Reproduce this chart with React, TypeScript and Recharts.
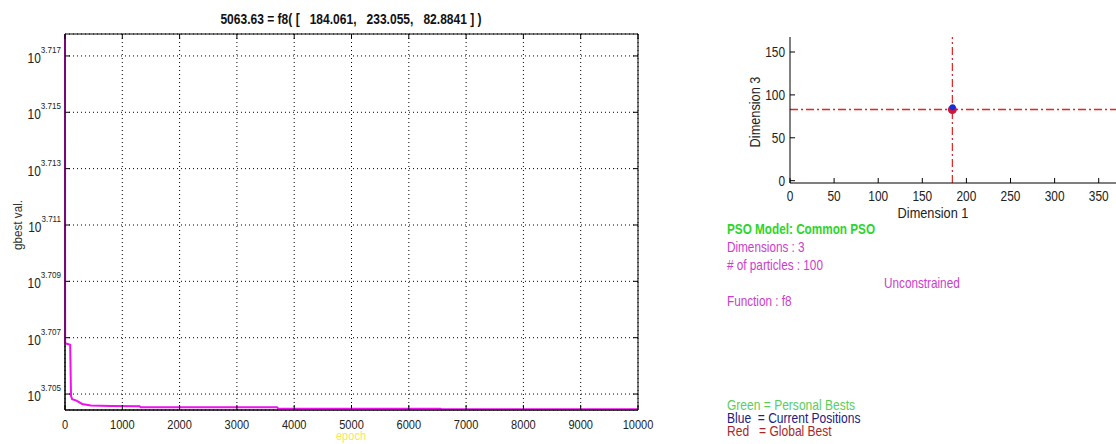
import {
  CartesianGrid,
  Line,
  LineChart,
  ReferenceArea,
  ReferenceLine,
  Scatter,
  ScatterChart,
  XAxis,
  YAxis,
} from "recharts";

// gbest history (left panel)
const epochs = [0, 2, 90, 105, 125, 200, 300, 450, 800, 1300, 1320, 3700, 3720, 6550, 6570, 10000];
const gbest = [
  5221.3, 5091.0, 5090.4, 5069.1, 5067.8, 5067.2, 5065.8, 5065.2, 5065.0, 5064.9, 5064.45, 5064.4,
  5063.9, 5063.85, 5063.63, 5063.63,
];
const epochTicks = [0, 1000, 2000, 3000, 4000, 5000, 6000, 7000, 8000, 9000, 10000];
const gbestExps = ["3.705", "3.707", "3.709", "3.711", "3.713", "3.715", "3.717"];
const gbestRange = [5063.3, 5221.3];

// particle view (right panel)
const dim1Ticks = [0, 50, 100, 150, 200, 250, 300, 350];
const dim3Ticks = [0, 50, 100, 150];
const dim1Range = [0, 369.6];
const dim3Range = [-2.7, 167.5];
const globalBest = [{ d1: 184.061, d3: 82.8841 }];
const currentPos = [{ d1: 184.4, d3: 85.6 }];

const FONT = "'Liberation Sans', Arial, sans-serif";
const historyData = epochs.map((e, i) => ({ epoch: e, g: gbest[i] }));
const gbestTicks = gbestExps.map((e) => Math.pow(10, Number(e)));

// left axes box
const L = 65;
const T = 34;
const R = 638;

// matlab's narrow helvetica look: squeeze text horizontally
function Narrow({ x, y, sx = 0.82, size = 13, anchor = "start", color = "#222", rotate = 0, bold = false, children }: any) {
  return (
    <text
      transform={`translate(${x},${y}) rotate(${rotate}) scale(${sx},1)`}
      textAnchor={anchor}
      fontSize={size}
      fontFamily={FONT}
      fontWeight={bold ? "bold" : "normal"}
      fill={color}
      style={{ whiteSpace: "pre" }}
    >
      {children}
    </text>
  );
}

function EpochTick({ x, y, payload }: any) {
  return (
    <g>
      <line x1={x} x2={x} y1={y} y2={y - 5} stroke="#000" />
      <line x1={x} x2={x} y1={T} y2={T + 5} stroke="#000" />
      <Narrow x={x} y={y + 19} anchor="middle" size={13.5}>
        {payload.value}
      </Narrow>
    </g>
  );
}

function GbestTick({ x, y, index }: any) {
  return (
    <g>
      <line x1={x} x2={x + 5} y1={y} y2={y} stroke="#000" />
      <line x1={R} x2={R - 5} y1={y} y2={y} stroke="#000" />
      <text transform={`translate(${x - 4},${y + 7}) scale(0.85,1)`} textAnchor="end" fontFamily={FONT} fill="#222">
        <tspan fontSize={14}>10</tspan>
        <tspan fontSize={9.5} dy={-10}>
          {gbestExps[index]}
        </tspan>
      </text>
    </g>
  );
}

function Dim1Tick({ x, y, payload }: any) {
  return (
    <g>
      <line x1={x} x2={x} y1={y} y2={y - 5} stroke="#000" />
      <Narrow x={x} y={y + 18} anchor="middle" size={14.5}>
        {payload.value}
      </Narrow>
    </g>
  );
}

function Dim3Tick({ x, y, payload }: any) {
  return (
    <g>
      <line x1={x} x2={x + 5} y1={y} y2={y} stroke="#000" />
      <Narrow x={x - 5} y={y + 5} anchor="end" size={14.5}>
        {payload.value}
      </Narrow>
    </g>
  );
}

export default function App() {
  return (
    <div
      style={{
        position: "absolute",
        left: 0,
        top: 0,
        width: 1116,
        height: 444,
        overflow: "hidden",
        background: "#fff",
      }}
    >
      <div style={{ position: "absolute", left: 0, top: 0 }}>
        <LineChart width={660} height={444} data={historyData} margin={{ top: T, right: 660 - R, bottom: 0, left: 0 }}>
          <CartesianGrid stroke="#000" strokeDasharray="1 3" />
          <ReferenceArea
            x1={0}
            x2={10000}
            y1={gbestRange[0]}
            y2={gbestRange[1]}
            fill="none"
            stroke="#000"
            ifOverflow="visible"
          />
          <XAxis
            dataKey="epoch"
            type="number"
            domain={[0, 10000]}
            ticks={epochTicks}
            interval={0}
            height={34}
            tickSize={0}
            tickMargin={0}
            tickLine={false}
            axisLine={{ stroke: "#000" }}
            tick={EpochTick}
          />
          <YAxis
            type="number"
            scale="log"
            domain={gbestRange}
            allowDataOverflow
            ticks={gbestTicks}
            interval={0}
            width={L}
            tickSize={0}
            tickMargin={0}
            tickLine={false}
            axisLine={{ stroke: "#000" }}
            tick={GbestTick}
          />
          <Line
            dataKey="g"
            type="linear"
            stroke="#f010f0"
            strokeWidth={2}
            dot={false}
            isAnimationActive={false}
          />
        </LineChart>
      </div>

      <div style={{ position: "absolute", left: 700, top: 0 }}>
        <ScatterChart width={416} height={230} margin={{ top: 37, right: 0, bottom: 0, left: 0 }}>
          <XAxis
            dataKey="d1"
            type="number"
            domain={dim1Range}
            allowDataOverflow
            ticks={dim1Ticks}
            interval={0}
            height={47}
            tickSize={0}
            tickMargin={0}
            tickLine={false}
            axisLine={{ stroke: "#000" }}
            tick={Dim1Tick}
          />
          <YAxis
            dataKey="d3"
            type="number"
            domain={dim3Range}
            allowDataOverflow
            ticks={dim3Ticks}
            interval={0}
            width={90}
            tickSize={0}
            tickMargin={0}
            tickLine={false}
            axisLine={{ stroke: "#000" }}
            tick={Dim3Tick}
          />
          <ReferenceLine x={globalBest[0].d1} stroke="#e02020" strokeWidth={1.2} strokeDasharray="8 3 2 3" />
          <ReferenceLine y={globalBest[0].d3} stroke="#ea2222" strokeWidth={1.5} strokeDasharray="8 3 2 3" />
          <Scatter
            data={globalBest}
            isAnimationActive={false}
            shape={(p: any) => <circle cx={p.cx} cy={p.cy} r={4.5} fill="#d3143c" />}
          />
          <Scatter
            data={currentPos}
            isAnimationActive={false}
            shape={(p: any) => <circle cx={p.cx} cy={p.cy} r={3} fill="#1a2fd0" />}
          />
        </ScatterChart>
      </div>

      <svg width={1116} height={444} style={{ position: "absolute", left: 0, top: 0, pointerEvents: "none" }}>
        <Narrow x={351} y={24} anchor="middle" size={14} sx={0.86} bold color="#111">
          {"5063.63 = f8( [   184.061,   233.055,   82.8841 ] )"}
        </Narrow>
        <Narrow x={22} y={225} anchor="middle" size={13} sx={0.9} rotate={-90} color="#333">
          gbest val.
        </Narrow>
        <Narrow x={351} y={440} anchor="middle" size={13} sx={0.85} color="#f5e65a">
          epoch
        </Narrow>
        <Narrow x={760} y={112} anchor="middle" size={15} sx={0.85} rotate={-90}>
          Dimension 3
        </Narrow>
        <Narrow x={933} y={218} anchor="middle" size={15} sx={0.85}>
          Dimension 1
        </Narrow>
        <Narrow x={727} y={234} size={14} sx={0.84} bold color="#2bd62b">
          PSO Model: Common PSO
        </Narrow>
        <Narrow x={727} y={252} size={14} sx={0.84} color="#cc3ccc">
          Dimensions : 3
        </Narrow>
        <Narrow x={727} y={270} size={14} sx={0.84} color="#cc3ccc">
          # of particles : 100
        </Narrow>
        <Narrow x={884} y={288} size={14} sx={0.84} color="#cc3ccc">
          Unconstrained
        </Narrow>
        <Narrow x={727} y={306} size={14} sx={0.84} color="#cc3ccc">
          Function : f8
        </Narrow>
        <Narrow x={727} y={410} size={14} sx={0.86} color="#5ccc5c">
          Green = Personal Bests
        </Narrow>
        <Narrow x={727} y={423} size={14} sx={0.86} color="#20207e">
          {"Blue  = Current Positions"}
        </Narrow>
        <Narrow x={727} y={436} size={14} sx={0.86} color="#a42a2a">
          {"Red   = Global Best"}
        </Narrow>
      </svg>
    </div>
  );
}
